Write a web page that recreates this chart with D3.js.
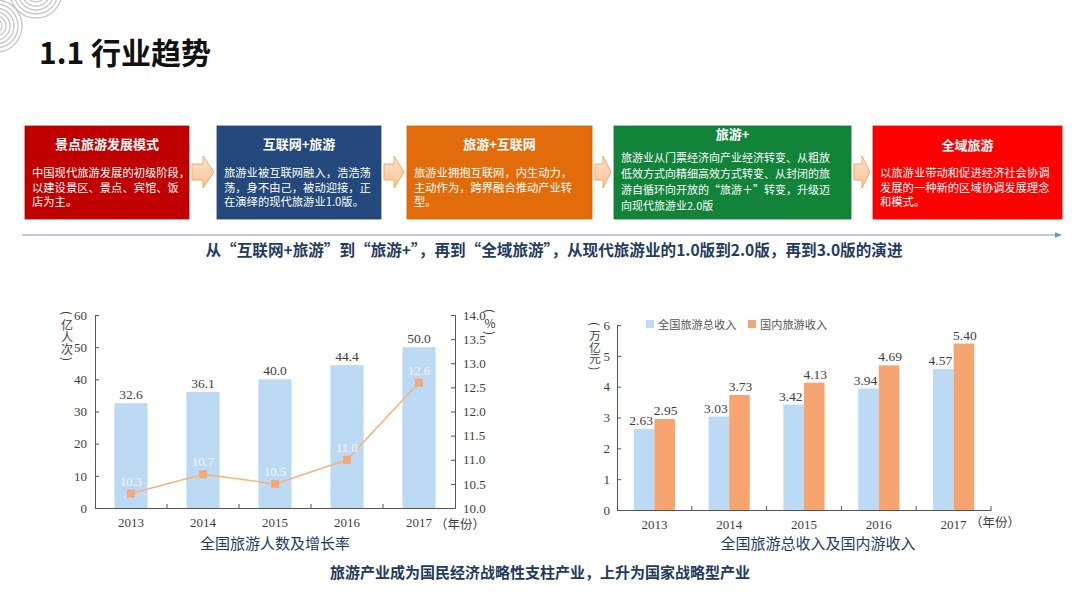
<!DOCTYPE html>
<html><head><meta charset="utf-8">
<script src="https://cdn.jsdelivr.net/npm/d3@7"></script>
<style>
html,body{margin:0;padding:0;background:#fff;}
svg{display:block;}
</style>
</head><body>
<svg id="c" width="1080" height="608"></svg>
<script>
// ---------------- data ----------------
const years = ["2013", "2014", "2015", "2016", "2017"];
const visitors = [32.6, 36.1, 40.0, 44.4, 50.0];          // 亿人次
const growthRate = [10.3, 10.7, 10.5, 11.0, 12.6];        // %
const totalIncome = [2.63, 3.03, 3.42, 3.94, 4.57];       // 万亿元
const domesticIncome = [2.95, 3.73, 4.13, 4.69, 5.40];    // 万亿元
const visitorTicks = [0, 10, 20, 30, 40, 50, 60];
const rateTicks = [10.0, 10.5, 11.0, 11.5, 12.0, 12.5, 13.0, 13.5, 14.0];
const incomeTicks = [0, 1, 2, 3, 4, 5, 6];
const incomeSeries = ["全国旅游总收入", "国内旅游收入"];

const stageTitles = ["景点旅游发展模式", "互联网+旅游", "旅游+互联网", "旅游+", "全域旅游"];
const stageBodies = [
  ["中国现代旅游发展的初级阶段，", "以建设景区、景点、宾馆、饭", "店为主。"],
  ["旅游业被互联网融入，浩浩荡", "荡，身不由己，被动迎接，正", "在演绎的现代旅游业1.0版。"],
  ["旅游业拥抱互联网，内生动力，", "主动作为，跨界融合推动产业转", "型。"],
  ["旅游业从门票经济向产业经济转变、从粗放", "低效方式向精细高效方式转变、从封闭的旅", "游自循环向开放的“旅游＋”转变，升级迈", "向现代旅游业2.0版"],
  ["以旅游业带动和促进经济社会协调", "发展的一种新的区域协调发展理念", "和模式。"]
];
const pageTitle = "1.1 行业趋势";
const subtitle = "从“互联网+旅游”到“旅游+”，再到“全域旅游”，从现代旅游业的1.0版到2.0版，再到3.0版的演进";
const caption1 = "全国旅游人数及增长率";
const caption2 = "全国旅游总收入及国内游收入";
const conclusion = "旅游产业成为国民经济战略性支柱产业，上升为国家战略型产业";
const unitVisitors = "亿人次";
const unitRate = "%";
const unitIncome = "万亿元";
const yearUnit = "（年份）";

// ---------------- layout / style ----------------
const CJK = "'Noto Sans CJK SC','Noto Sans',sans-serif";
const SERIF = "'Liberation Serif','Noto Sans CJK SC',serif";
const boxLayout = [
  {x: 25, w: 164, color: "#c00000", ty: 149, by: 177, lh: 14.5, fs: 11.3},
  {x: 217, w: 164, color: "#23497c", ty: 149, by: 177, lh: 14.5, fs: 11.3},
  {x: 407, w: 185, color: "#e36c0a", ty: 149, by: 177, lh: 14.5, fs: 11.3},
  {x: 614, w: 237, color: "#11843a", ty: 139, by: 162, lh: 16, fs: 11},
  {x: 873, w: 189, color: "#fe0000", ty: 150, by: 177, lh: 14.5, fs: 11.3}
];
const boxTop = 126, boxH = 93;

const svg = d3.select("#c");
const defs = svg.append("defs");

// decorative swirl in the top-left corner
const deco = svg.append("g").attr("fill", "none").attr("stroke", "#c9c9c9").attr("stroke-width", 1.4);
[[-4, 26], [36, -8]].forEach(([cx, cy]) => {
  d3.range(6, 30, 4).forEach(r => deco.append("circle").attr("cx", cx).attr("cy", cy).attr("r", r));
});

// title
svg.append("text").attr("x", 39).attr("y", 64).attr("font-family", CJK).attr("font-weight", "bold")
  .attr("font-size", 30).attr("fill", "#111").text(pageTitle);

// arrow gradient
const grad = defs.append("linearGradient").attr("id", "ag").attr("x1", 0).attr("y1", 0).attr("x2", 0).attr("y2", 1);
grad.append("stop").attr("offset", "0%").attr("stop-color", "#fde3cc");
grad.append("stop").attr("offset", "100%").attr("stop-color", "#f9c294");

// stage boxes
boxLayout.forEach((b, i) => {
  const g = svg.append("g");
  g.append("rect").attr("x", b.x).attr("y", boxTop).attr("width", b.w).attr("height", boxH)
    .attr("fill", b.color).attr("stroke", d3.color(b.color).darker(0.3)).attr("stroke-width", 0.8);
  g.append("text").attr("x", b.x + b.w / 2).attr("y", b.ty).attr("text-anchor", "middle")
    .attr("font-family", CJK).attr("font-weight", "bold").attr("font-size", 13).attr("fill", "#fff")
    .text(stageTitles[i]);
  const body = g.append("text").attr("font-family", CJK).attr("font-size", b.fs).attr("fill", "#fff");
  stageBodies[i].forEach((line, j) => {
    body.append("tspan").attr("x", b.x + 7).attr("y", b.by + j * b.lh).text(line);
  });
  if (i < boxLayout.length - 1) {
    const x0 = b.x + b.w + 3, x1 = boxLayout[i + 1].x - 3, xm = x0 + (x1 - x0) * 0.5, cy = 172;
    const p = d3.path();
    p.moveTo(x0, cy - 8); p.lineTo(xm, cy - 8); p.lineTo(xm, cy - 16); p.lineTo(x1, cy);
    p.lineTo(xm, cy + 16); p.lineTo(xm, cy + 8); p.lineTo(x0, cy + 8); p.closePath();
    svg.append("path").attr("d", p.toString()).attr("fill", "url(#ag)").attr("stroke", "#f2a96a").attr("stroke-width", 1);
  }
});

// timeline arrow
defs.append("marker").attr("id", "tip").attr("viewBox", "0 0 10 10").attr("refX", 9).attr("refY", 5)
  .attr("markerWidth", 6).attr("markerHeight", 6).attr("orient", "auto")
  .append("path").attr("d", "M0,1 L10,5 L0,9 Z").attr("fill", "#6f92be");
svg.append("line").attr("x1", 22).attr("x2", 1061).attr("y1", 235).attr("y2", 235)
  .attr("stroke", "#7d9dc4").attr("stroke-width", 1.2).attr("marker-end", "url(#tip)");

svg.append("text").attr("x", 554).attr("y", 256).attr("text-anchor", "middle")
  .attr("font-family", CJK).attr("font-weight", "bold").attr("font-size", 15.6).attr("fill", "#253b5e").text(subtitle);

// helper: vertical unit label — turned parentheses around a vertical run of upright characters
function vlabel(g, str, cx, yTop, size) {
  const n = Array.from(str).length;
  const paren = (ch, cy) => g.append("text").attr("x", cx).attr("y", cy)
    .attr("transform", `rotate(90,${cx},${cy})`).attr("text-anchor", "middle").attr("dominant-baseline", "central")
    .attr("font-family", CJK).attr("font-size", size).attr("fill", "#3d3d3d").text(ch);
  paren("(", yTop);
  const y0 = yTop + 6;
  g.append("text").attr("x", cx).attr("y", y0)
    .style("writing-mode", "vertical-rl").style("text-orientation", "upright")
    .attr("font-family", CJK).attr("font-size", size).attr("fill", "#3d3d3d").text(str);
  paren(")", y0 + n * size + 4);
}

// ---------------- left chart ----------------
const L = svg.append("g");
const xL = d3.scaleBand().domain(years).range([95, 455]).paddingInner(0.54).paddingOuter(0.27);
const yL = d3.scaleLinear().domain([0, 60]).range([508, 315]);
const yR = d3.scaleLinear().domain([10, 14]).range([508, 315]);
const axisColor = "#555", textColor = "#3d3d3d";

L.selectAll("rect.bar").data(visitors).join("rect").attr("class", "bar")
  .attr("x", (d, i) => xL(years[i])).attr("width", xL.bandwidth())
  .attr("y", d => yL(d)).attr("height", d => yL(0) - yL(d)).attr("fill", "#bcdaf4");
L.selectAll("text.val").data(visitors).join("text").attr("class", "val")
  .attr("x", (d, i) => xL(years[i]) + xL.bandwidth() / 2).attr("y", d => yL(d) - 4)
  .attr("text-anchor", "middle").attr("font-family", SERIF).attr("font-size", 13.5).attr("fill", textColor)
  .text(d => d.toFixed(1));

function styleAxis(g) {
  g.selectAll("path.domain").attr("stroke", axisColor);
  g.selectAll(".tick line").attr("stroke", axisColor);
  g.selectAll(".tick text").attr("font-family", SERIF).attr("font-size", 13).attr("fill", textColor);
}
L.append("g").attr("transform", "translate(95,0)")
  .call(d3.axisLeft(yL).tickValues(visitorTicks).tickSize(-4).tickPadding(8).tickFormat(d3.format("d")))
  .call(styleAxis);
L.append("g").attr("transform", "translate(455,0)")
  .call(d3.axisRight(yR).tickValues(rateTicks).tickSize(-4).tickPadding(8).tickFormat(d3.format(".1f")))
  .call(styleAxis);
L.append("g").attr("transform", "translate(0,508)")
  .call(d3.axisBottom(xL).tickSize(0).tickPadding(10).tickSizeOuter(0))
  .call(styleAxis);
L.selectAll("line.bt").data(d3.range(1, years.length)).join("line").attr("class", "bt")
  .attr("x1", i => xL.range()[0] + i * xL.step()).attr("x2", i => xL.range()[0] + i * xL.step())
  .attr("y1", 508).attr("y2", 504).attr("stroke", axisColor);

const lineGen = d3.line().x((d, i) => xL(years[i]) + xL.bandwidth() / 2).y(d => yR(d));
L.append("path").datum(growthRate).attr("d", lineGen).attr("fill", "none").attr("stroke", "#f6b27e").attr("stroke-width", 1.5);
L.selectAll("rect.mk").data(growthRate).join("rect").attr("class", "mk")
  .attr("x", (d, i) => xL(years[i]) + xL.bandwidth() / 2 - 4).attr("y", d => yR(d) - 4)
  .attr("width", 8).attr("height", 8).attr("fill", "#f4a777");
L.selectAll("text.rl").data(growthRate).join("text").attr("class", "rl")
  .attr("x", (d, i) => xL(years[i]) + xL.bandwidth() / 2).attr("y", d => yR(d) - 8)
  .attr("text-anchor", "middle").attr("font-family", SERIF).attr("font-size", 12.5).attr("fill", "#f3f8fd")
  .text(d => d.toFixed(1));

vlabel(L, unitVisitors, 67, 313, 12);
vlabel(L, unitRate, 490, 311, 12);
L.append("text").attr("x", 435).attr("y", 529).attr("font-family", CJK).attr("font-size", 12.5)
  .attr("fill", textColor).text(yearUnit);

svg.append("text").attr("x", 275).attr("y", 549).attr("text-anchor", "middle").attr("font-family", CJK)
  .attr("font-size", 15).attr("fill", "#223a5c").text(caption1);

// ---------------- right chart ----------------
const R = svg.append("g");
const xI = d3.scaleBand().domain(years).range([617, 991]).paddingInner(0.45).paddingOuter(0.225);
const xS = d3.scaleBand().domain(incomeSeries).range([0, xI.bandwidth()]);
const yI = d3.scaleLinear().domain([0, 6]).range([510, 325]);
const incColors = ["#bcdaf4", "#f6a570"];
const incData = [totalIncome, domesticIncome];

incData.forEach((arr, s) => {
  R.selectAll("rect.s" + s).data(arr).join("rect").attr("class", "s" + s)
    .attr("x", (d, i) => xI(years[i]) + xS(incomeSeries[s])).attr("width", xS.bandwidth())
    .attr("y", d => yI(d)).attr("height", d => yI(0) - yI(d)).attr("fill", incColors[s]);
  R.selectAll("text.v" + s).data(arr).join("text").attr("class", "v" + s)
    .attr("x", (d, i) => xI(years[i]) + xS(incomeSeries[s]) + xS.bandwidth() / 2 + (s === 0 ? -3 : 1))
    .attr("y", d => yI(d) - 4)
    .attr("text-anchor", "middle").attr("font-family", SERIF).attr("font-size", 13.5).attr("fill", textColor)
    .text(d => d.toFixed(2));
});
R.append("g").attr("transform", "translate(617,0)")
  .call(d3.axisLeft(yI).tickValues(incomeTicks).tickSize(-4).tickPadding(7).tickFormat(d3.format("d")))
  .call(styleAxis);
R.append("g").attr("transform", "translate(0,510)")
  .call(d3.axisBottom(xI).tickSize(0).tickPadding(10).tickSizeOuter(0))
  .call(styleAxis);
R.selectAll("line.bt").data(d3.range(1, years.length + 1)).join("line").attr("class", "bt")
  .attr("x1", i => xI.range()[0] + i * xI.step()).attr("x2", i => xI.range()[0] + i * xI.step())
  .attr("y1", 510).attr("y2", 506).attr("stroke", axisColor);

// legend
const legX = [646, 748];
incomeSeries.forEach((name, s) => {
  R.append("rect").attr("x", legX[s]).attr("y", 320).attr("width", 8).attr("height", 8).attr("fill", incColors[s]);
  R.append("text").attr("x", legX[s] + 12).attr("y", 328.5).attr("font-family", CJK).attr("font-size", 11.2)
    .attr("fill", "#555").text(name);
});
vlabel(R, unitIncome, 595, 324, 11.5);
R.append("text").attr("x", 970).attr("y", 527).attr("font-family", CJK).attr("font-size", 12.5)
  .attr("fill", textColor).text(yearUnit);

svg.append("text").attr("x", 818).attr("y", 549).attr("text-anchor", "middle").attr("font-family", CJK)
  .attr("font-size", 15).attr("fill", "#223a5c").text(caption2);
svg.append("text").attr("x", 540).attr("y", 578).attr("text-anchor", "middle").attr("font-family", CJK)
  .attr("font-weight", "bold").attr("font-size", 15).attr("fill", "#223a5c").text(conclusion);
</script>
</body></html>
